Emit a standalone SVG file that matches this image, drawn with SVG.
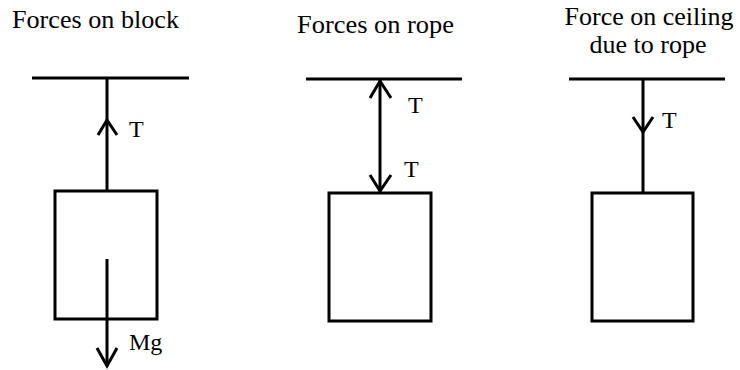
<svg xmlns="http://www.w3.org/2000/svg" width="740" height="370" viewBox="0 0 740 370">
<style>
.ln{stroke:#000;stroke-width:3;fill:none;stroke-linecap:butt}
.bx{stroke:#000;stroke-width:3;fill:#fff}
.hd{stroke:#000;stroke-width:3;fill:none;stroke-linejoin:miter}
.tt{font-size:26px;fill:#000}
.lb{font-size:24px;fill:#000}
</style>
<rect width="740" height="370" fill="#fff"/>
<g id="titles" font-family="'Liberation Serif', 'DejaVu Serif', serif">
<text class="tt" x="12" y="28" textLength="167" lengthAdjust="spacingAndGlyphs">Forces on block</text>
<text class="tt" x="297" y="33" textLength="157" lengthAdjust="spacingAndGlyphs">Forces on rope</text>
<text class="tt" x="649" y="25" text-anchor="middle">Force on ceiling</text>
<text class="tt" x="648" y="53" text-anchor="middle">due to rope</text>
</g>
<g id="ceiling1"><line class="ln" x1="32" y1="78" x2="189" y2="78"/></g>
<g id="ceiling2"><line class="ln" x1="306" y1="79" x2="462" y2="79"/></g>
<g id="ceiling3"><line class="ln" x1="569" y1="79" x2="725" y2="79"/></g>
<g id="block1"><rect class="bx" x="55" y="191" width="102" height="128"/></g>
<g id="block2"><rect class="bx" x="329" y="193" width="102" height="128"/></g>
<g id="block3"><rect class="bx" x="592" y="193" width="101" height="128"/></g>
<g id="connectors">
<line class="ln" x1="107" y1="78" x2="107" y2="191"/>
<polyline class="hd" points="98,135 107,120 117,135"/>
<line class="ln" x1="107" y1="259" x2="107" y2="366"/>
<polyline class="hd" points="97,348 107,366 117,348"/>
<line class="ln" x1="380" y1="80" x2="380" y2="192"/>
<polyline class="hd" points="370,98 380,81 391,98"/>
<polyline class="hd" points="370,175 380,191 391,175"/>
<line class="ln" x1="643" y1="79" x2="643" y2="193"/>
<polyline class="hd" points="633,117 643,132 653,117"/>
</g>
<g id="labels" font-family="'Liberation Serif', 'DejaVu Serif', serif">
<text class="lb" x="129" y="137">T</text>
<text class="lb" x="129" y="350">Mg</text>
<text class="lb" x="408" y="113">T</text>
<text class="lb" x="404" y="177">T</text>
<text class="lb" x="662" y="128">T</text>
</g>
</svg>
